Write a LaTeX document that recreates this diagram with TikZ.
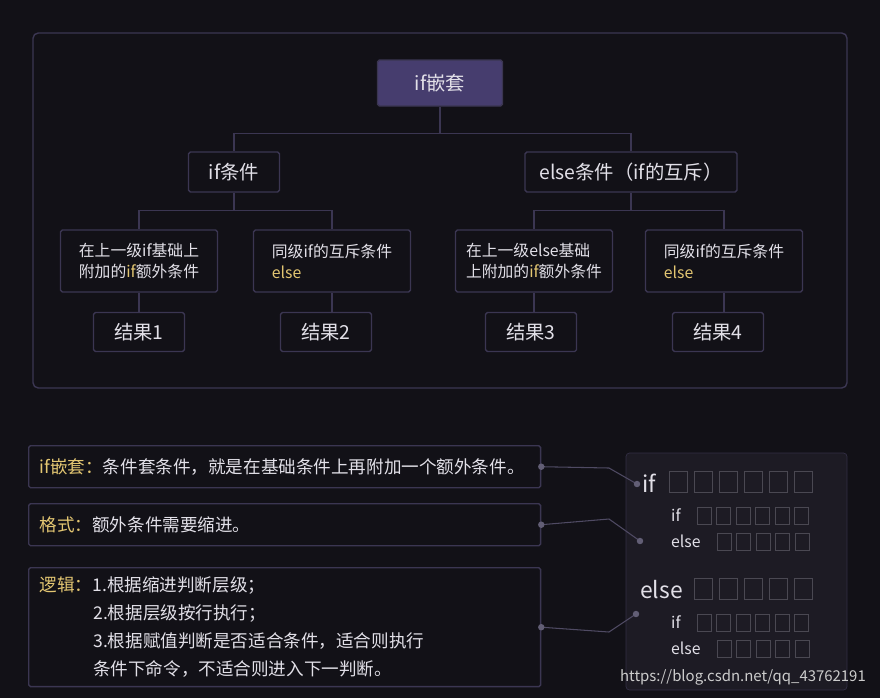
\documentclass[tikz,border=0pt]{standalone}
\usepackage{fontspec}
\setmainfont{Noto Sans CJK SC}
\setsansfont{Noto Sans CJK SC}
\usetikzlibrary{positioning}
\definecolor{bgc}{HTML}{121117}
\definecolor{frame}{HTML}{3B3652}
\definecolor{rootc}{HTML}{463D6E}
\definecolor{txt}{HTML}{E2E0E8}
\definecolor{yel}{HTML}{E3C672}
\definecolor{panel}{HTML}{1D1B24}
\definecolor{sq}{HTML}{4A4852}
\tikzset{
  box/.style={draw=frame,line width=0.8pt,rounded corners=1pt,text=txt,inner sep=0pt},
  tline/.style={draw=frame,line width=0.8pt},
  wire/.style={draw=frame!90!white,line width=0.6pt},
  dot/.style={circle,fill=frame!80!white,inner sep=1.3pt},
}
\newcommand{\sqrow}[5]{% x0, y, n, step, w/h
  \foreach \k in {1,...,#3}
    \draw[sq,line width=0.5pt] ({#1+(\k-1)*#4},#2) rectangle ++#5;}
\begin{document}
\begin{tikzpicture}[x=0.02cm,y=-0.02cm]
\fill[bgc] (0,0) rectangle (880,698);
\useasboundingbox (0,0) rectangle (880,698);
\draw[frame,line width=0.8pt,rounded corners=3pt] (33,33) rectangle (847,388);
% tree
\node[box,fill=rootc,minimum width=2.5cm,minimum height=0.92cm,font=\fontsize{11}{13}\selectfont] (root) at (440,83) {if嵌套};
\node[box,minimum width=1.82cm,minimum height=0.8cm,font=\fontsize{11}{13}\selectfont] (ifc) at (234,172) {if条件};
\node[box,minimum width=4.24cm,minimum height=0.8cm,font=\fontsize{11}{13}\selectfont] (elc) at (631,172) {else条件（if的互斥）};
\foreach \n/\x/\t in {a/139/{在上一级if基础上\\附加的\textcolor{yel}{if}额外条件},
                      b/332/{同级if的互斥条件\\\textcolor{yel}{else}},
                      c/534/{在上一级else基础\\上附加的\textcolor{yel}{if}额外条件},
                      d/724/{同级if的互斥条件\\\textcolor{yel}{else}}}
  \node[box,minimum width=3.14cm,minimum height=1.24cm,align=left,font=\fontsize{9}{12}\selectfont] (\n) at (\x,261) {\t};
\foreach \n/\x/\i in {r1/139/1,r2/326/2,r3/531/3,r4/718/4}
  \node[box,minimum width=1.82cm,minimum height=0.78cm,font=\fontsize{11}{13}\selectfont] (\n) at (\x,332) {结果\i};
\draw[tline] (root.south) -- ++(0,27) -| (ifc.north);
\draw[tline] (root.south) -- ++(0,27) -| (elc.north);
\draw[tline] (ifc.south) -- ++(0,18) -| (a.north);
\draw[tline] (ifc.south) -- ++(0,18) -| (b.north);
\draw[tline] (elc.south) -- ++(0,18) -| (c.north);
\draw[tline] (elc.south) -- ++(0,18) -| (d.north);
\foreach \u/\v in {a/r1,b/r2,c/r3,d/r4} \draw[tline] (\u.south) -- (\u.south|-\v.north);
% notes
\node[box,anchor=north west,minimum width=10.24cm,minimum height=0.84cm,align=left,text width=9.8cm,font=\fontsize{10}{13}\selectfont] (n1) at (28,445)
  {\textcolor{yel}{if嵌套：}条件套条件，就是在基础条件上再附加一个额外条件。};
\node[box,anchor=north west,minimum width=10.24cm,minimum height=0.84cm,align=left,text width=9.8cm,font=\fontsize{10}{13}\selectfont] (n2) at (28,503)
  {\textcolor{yel}{格式：}额外条件需要缩进。};
\node[box,anchor=north west,minimum width=10.24cm,minimum height=2.38cm,align=left,text width=9.8cm,font=\fontsize{10}{16}\selectfont] (n3) at (28,567)
  {\textcolor{yel}{逻辑：}1.根据缩进判断层级；\\
   \hspace{3.05em}2.根据层级按行执行；\\
   \hspace{3.05em}3.根据赋值判断是否适合条件，适合则执行\\
   \hspace{3.05em}条件下命令，不适合则进入下一判断。};
% code panel
\fill[panel,draw=frame!70!panel,rounded corners=2pt] (626,453) rectangle (847,690);
\node[text=txt,font=\fontsize{13}{15}\selectfont,anchor=west] (pif) at (636,483) {if};
\node[text=txt,font=\fontsize{9}{11}\selectfont,anchor=west] (pif2) at (665,515) {if};
\node[text=txt,font=\fontsize{9}{11}\selectfont,anchor=west] (pel2) at (665,541) {else};
\node[text=txt,font=\fontsize{13}{15}\selectfont,anchor=west] (pel) at (634,590) {else};
\node[text=txt,font=\fontsize{9}{11}\selectfont,anchor=west] (pif3) at (665,622) {if};
\node[text=txt,font=\fontsize{9}{11}\selectfont,anchor=west] (pel3) at (665,648) {else};
\sqrow{669}{471}{6}{25}{(18,21)}
\sqrow{697}{507}{6}{19.5}{(14,17)}
\sqrow{717}{533}{5}{19.5}{(14,17)}
\sqrow{694}{578}{5}{25}{(18,21)}
\sqrow{697}{614}{6}{19.5}{(14,17)}
\sqrow{717}{640}{5}{19.5}{(14,17)}
% connectors
\coordinate (k1) at (637,484);
\coordinate (k2) at (640,541);
\coordinate (k3) at (636,614);
\draw[wire] (n1.east) -- (609,468) -- (k1);
\draw[wire] (n2.east) -- (609,519) -- (k2);
\draw[wire] (n3.east) -- (609,632) -- (k3);
\foreach \p in {n1.east,n2.east,n3.east,k1,k2,k3} \node[dot] at (\p) {};
\node[text=white!80!black,font=\fontsize{8.5}{10}\selectfont\sffamily,anchor=east] (wm) at (872,677) {https://blog.csdn.net/qq\_43762191};
\end{tikzpicture}
\end{document}
